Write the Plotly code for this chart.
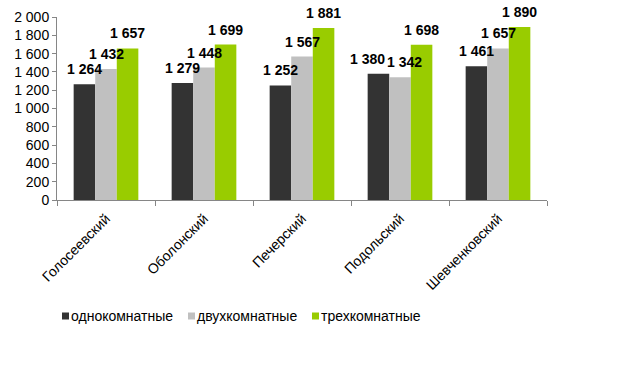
import plotly.graph_objects as go

categories = ["Голосеевский", "Оболонский", "Печерский", "Подольский", "Шевченковский"]
series_names = ["однокомнатные", "двухкомнатные", "трехкомнатные"]
one_room = [1264, 1279, 1252, 1380, 1461]
two_room = [1432, 1448, 1567, 1342, 1657]
three_room = [1657, 1699, 1881, 1698, 1890]
colors = ["#333333", "#c0c0c0", "#99cc00"]

FONT = "Arial, Liberation Sans, sans-serif"
W, H = 624, 369
ML, MR, MT, MB = 57, 77, 17, 169
PLOT_W = W - ML - MR
PLOT_H = H - MT - MB
YMAX = 2000
BARGAP = 0.34
cat_px = PLOT_W / len(categories)
bar_px = cat_px * (1 - BARGAP) / 3
px_per_unit = PLOT_H / YMAX

def fmt(v):
    return f"{v:,}".replace(",", " ")

def text_w(s, size=14):
    return sum(0.278 * size if ch == " " else 0.556 * size for ch in s)

fig = go.Figure()
all_series = [one_room, two_room, three_room]
for name, vals, col in zip(series_names, all_series, colors):
    fig.add_trace(go.Bar(
        x=categories, y=vals, name=name, marker_color=col,
        marker_line_width=0, showlegend=False, hoverinfo="skip",
    ))

# data labels (bold), with simple collision avoidance between neighbours
annotations = []
for ci, cat in enumerate(categories):
    xs = [(si - 1) * bar_px for si in range(3)]
    for si in range(2):
        a, b = all_series[si][ci], all_series[si + 1][ci]
        if abs(a - b) * px_per_unit < 15:
            need = (text_w(fmt(a)) + text_w(fmt(b))) / 2 + 2 - (xs[si + 1] - xs[si])
            if need > 0:
                xs[si] -= need * 0.7
                xs[si + 1] += need * 0.3
    for si in range(3):
        v = all_series[si][ci]
        annotations.append(dict(
            x=cat, y=v, xref="x", yref="y", text=fmt(v), showarrow=False,
            xanchor="center", yanchor="bottom", yshift=5, xshift=xs[si],
            font=dict(family=FONT, size=14, color="#000000", weight="bold"),
        ))

# manual legend: small squares followed by text
LEG_PX = [62, 188, 312]      # left edge of each square, reference pixels
LEG_Y_PX = 316               # vertical centre, reference pixels
shapes = []
ly = (H - MB - LEG_Y_PX) / PLOT_H
for name, col, lx_px in zip(series_names, colors, LEG_PX):
    lx = (lx_px - ML) / PLOT_W
    shapes.append(dict(type="rect", xref="paper", yref="paper",
                       xsizemode="pixel", ysizemode="pixel",
                       xanchor=lx, yanchor=ly, x0=0, x1=7, y0=-3.5, y1=3.5,
                       fillcolor=col, line=dict(width=0)))
    annotations.append(dict(
        x=lx, y=ly, xref="paper", yref="paper", text=name, showarrow=False,
        xanchor="left", yanchor="middle", xshift=7,
        font=dict(family=FONT, size=14, color="#000000"),
    ))

fig.update_layout(
    width=W, height=H,
    margin=dict(l=ML, r=MR, t=MT, b=MB),
    barmode="group", bargap=BARGAP, bargroupgap=0,
    separators=", ",
    plot_bgcolor="white", paper_bgcolor="white",
    font=dict(family=FONT, size=14, color="#000000"),
    showlegend=False,
    annotations=annotations,
    shapes=shapes,
)
fig.update_yaxes(range=[0, YMAX], dtick=200, tickformat=",", showgrid=False,
                 showline=True, linecolor="#868686", linewidth=1, automargin=False,
                 ticks="outside", ticklen=4, tickcolor="#868686", zeroline=False,
                 tickfont=dict(size=14))
fig.update_xaxes(showgrid=False, showline=True, linecolor="#868686", linewidth=1,
                 ticks="outside", ticklen=5, tickcolor="#868686", tickson="boundaries",
                 tickangle=-45, tickfont=dict(size=14), automargin=False,
                 ticklabelstandoff=4)

fig.write_html("out.html", config={"displayModeBar": False},
               post_script="document.body.style.margin='0';")
